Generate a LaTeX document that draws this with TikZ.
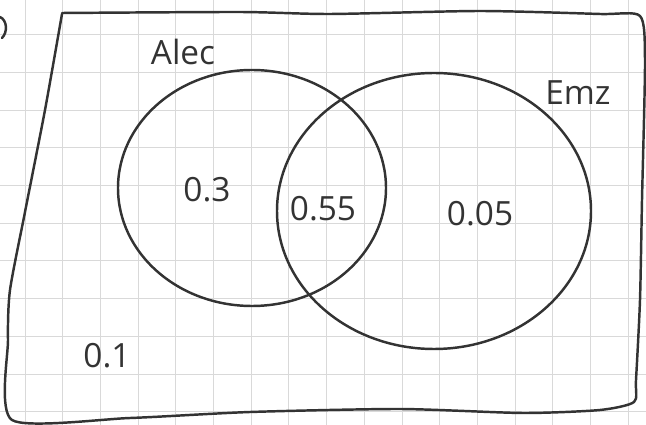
\documentclass[tikz,border=0pt]{standalone}
\usepackage{fontspec}
\setmainfont{Open Sans}
\usepackage{tikz}
\usetikzlibrary{calc, positioning}

\begin{document}
\begin{tikzpicture}[x=0.02cm, y=-0.02cm, line cap=round, line join=round]
    \useasboundingbox (0,0) rectangle (646,425);
    \tikzset{pen/.style={black!80, line width=1.4pt},
             lbl/.style={font=\fontsize{19}{22}\selectfont, text=black!80, inner sep=0pt}}

    % 1. Giấy kẻ ô
    \foreach \x in {0,...,16} \draw[gray!30, line width=0.5pt] ({25+37.7*\x},0) -- ({25+37.7*\x},425);
    \foreach \y in {0,...,11} \draw[gray!30, line width=0.5pt] (0,{-3+37.7*\y}) -- (646,{-3+37.7*\y});

    % Khung (vẽ tay)
    \draw[pen] plot[smooth, tension=0.4] coordinates {(62,13) (240,12) (330,14) (480,11) (600,14) (640,16)
        (645,60) (642,200) (640,300) (636,380) (634,402) (600,410) (523,413) (400,409)
        (250,412) (130,418) (12,420) (8,340) (10,290) (25,212) (45,110) (62,14)};
    \draw[pen] (0,17) .. controls (7,20) and (8,32) .. (2,38);

    % 2. Hai tập hợp
    \draw[pen] (252,188) ellipse[x radius=134, y radius=118];
    \draw[pen] (434,211) ellipse[x radius=157, y radius=138];

    % Nhãn
    \node[lbl] (alec) at (183,52) {Alec};
    \node[lbl] (emz) at (578,93) {Emz};
    \node[lbl] (pa) at (207,190) {0.3};
    \node[lbl] (pab) at (323,209) {0.55};
    \node[lbl] (pb) at (480,214) {0.05};
    \node[lbl] (pn) at (107,356) {0.1};
\end{tikzpicture}
\end{document}
